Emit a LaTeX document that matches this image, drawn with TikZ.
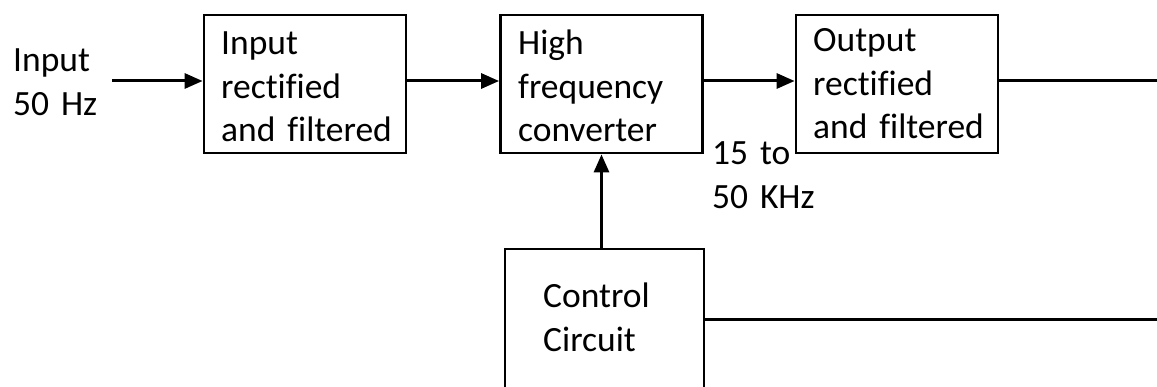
\documentclass[tikz,border=0pt]{standalone}
\usepackage{fontspec}
\setmainfont{Carlito}[Ligatures={NoCommon}]
\usetikzlibrary{arrows.meta}
\begin{document}
\begin{tikzpicture}[x=1pt,y=-1pt,
  box/.style={draw, line width=2.8pt, minimum width=202pt, minimum height=138pt, inner sep=0pt},
  lbl/.style={font=\fontsize{35.5}{43.5}\selectfont, align=left, text width=200pt, inner sep=0pt, anchor=base west},
  conn/.style={line width=3pt},
  arr/.style={conn, -{Triangle[length=18pt,width=15pt]}}]
\useasboundingbox (0,0) rectangle (1157,387);
\clip (0,0) rectangle (1157,387);
% boxes
\node[box] (b1) at (305,84) {};
\node[box] (b2) at (601.5,84) {};
\node[box] (b3) at (897,84) {};
\node[box, minimum width=199pt, minimum height=151pt] (ctl) at (604.5,324.5) {};
% texts
\node[lbl] (tin) at (13,72) {Input\\50 Hz};
\node[lbl] (t1) at (221,55) {Input\\rectified\\and filtered};
\node[lbl] (t2) at (518,55) {High\\frequency\\converter};
\node[lbl] (t3) at (813,52) {Output\\rectified\\and filtered};
\node[lbl] (tc) at (543,308) {Control\\Circuit};
\node[lbl] (tf) at (712,165) {15 to\\50 KHz};
% connectors
\coordinate (inS) at (112,81);
\coordinate (outE) at (1157,81);
\coordinate (ctlE) at (1157,320);
\draw[arr] (inS) -- (b1.west |- inS);
\draw[arr] (b1.east |- inS) -- (b2.west |- inS);
\draw[arr] (b2.east |- inS) -- (b3.west |- inS);
\draw[conn] (b3.east |- inS) -- (outE);
\draw[arr] (b2.south |- ctl.north) -- (b2.south);
\draw[conn] (ctl.east |- ctlE) -- (ctlE);
\end{tikzpicture}
\end{document}
